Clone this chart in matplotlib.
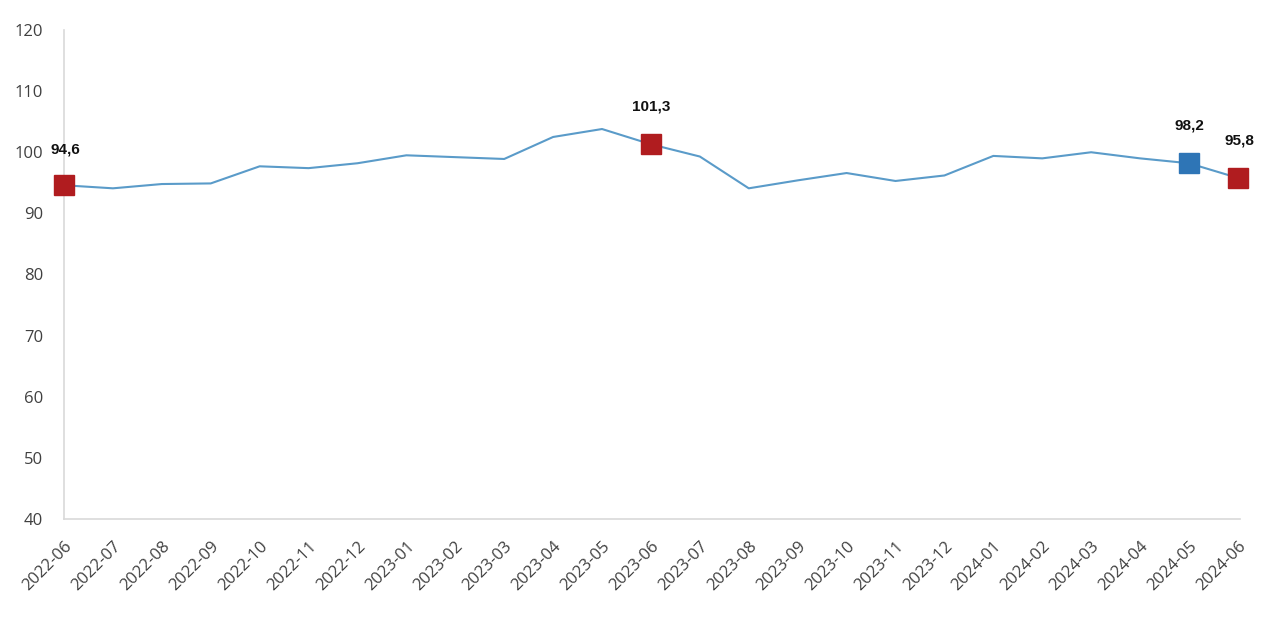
import matplotlib
matplotlib.use("Agg")
import matplotlib.pyplot as plt

# Monate und Indexwerte
months = ["2022-06", "2022-07", "2022-08", "2022-09", "2022-10", "2022-11", "2022-12",
          "2023-01", "2023-02", "2023-03", "2023-04", "2023-05", "2023-06", "2023-07",
          "2023-08", "2023-09", "2023-10", "2023-11", "2023-12", "2024-01", "2024-02",
          "2024-03", "2024-04", "2024-05", "2024-06"]
values = [94.6, 94.1, 94.8, 94.9, 97.7, 97.4, 98.2, 99.5, 99.2, 98.9, 102.5, 103.8,
          101.3, 99.3, 94.1, 95.4, 96.6, 95.3, 96.2, 99.4, 99.0, 100.0, 99.0, 98.2, 95.8]

# hervorgehobene Punkte: Index, Farbe, Beschriftungsversatz (Punkte)
highlight_idx = [0, 12, 23, 24]
highlight_col = ["#b01c1f", "#b01c1f", "#2e75b6", "#b01c1f"]
label_offsets = [(1, 26), (0, 27), (0, 27), (1, 27)]

fig = plt.figure(figsize=(12.8, 6.25), dpi=100)
ax = fig.add_axes([0.05, 0.1696, 0.919, 0.7824])

x = list(range(len(months)))
ax.plot(x, values, color="#5a9bc9", linewidth=1.5, zorder=2)

for i, c, off in zip(highlight_idx, highlight_col, label_offsets):
    ax.plot(x[i], values[i], marker="s", markersize=14, color=c,
            markeredgecolor=c, linestyle="none", zorder=3, clip_on=False)
    ax.annotate(f"{values[i]:.1f}".replace(".", ","), (x[i], values[i]),
                xytext=off, textcoords="offset points", ha="center", va="center",
                fontsize=11, fontweight="bold", family="Liberation Sans", color="#111111")

ax.set_ylim(40, 120)
ax.set_yticks(range(40, 121, 10))
ax.set_xlim(0, 24.05)
ax.set_xticks(x)
ax.set_xticklabels(months, rotation=45, ha="right", rotation_mode="anchor")

for lab in ax.get_xticklabels() + ax.get_yticklabels():
    lab.set_fontsize(12)
    lab.set_family("Open Sans")
    lab.set_color("#404040")

ax.tick_params(axis="both", length=0)
ax.tick_params(axis="x", pad=14)
ax.tick_params(axis="y", pad=15)
for s in ["top", "right"]:
    ax.spines[s].set_visible(False)
for s in ["left", "bottom"]:
    ax.spines[s].set_color("#d9d9d9")
    ax.spines[s].set_linewidth(1.2)

fig.savefig("out.png", dpi=100)
